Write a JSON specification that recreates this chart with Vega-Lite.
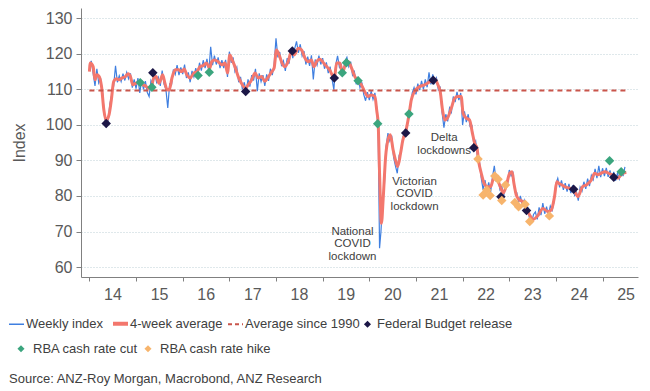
{
  "$schema": "https://vega.github.io/schema/vega-lite/v6.json",
  "width": 557,
  "height": 269,
  "autosize": {"type": "none"},
  "padding": {"left": 81, "top": 8, "right": 12, "bottom": 114},
  "config": {"view": {"stroke": null}, "font": "Liberation Sans"},
  "title": {"text": "Source: ANZ-Roy Morgan, Macrobond, ANZ Research", "orient": "bottom", "anchor": "start", "frame": "group", "dx": -72, "offset": 17, "font": "Liberation Sans", "fontSize": 13, "fontWeight": "normal", "color": "#404040"},
  "datasets": {
    "wk": [
      {"t":2014.00,"v":116.5},{"t":2014.04,"v":118.0},{"t":2014.08,"v":114.5},{"t":2014.12,"v":111.0},{"t":2014.16,"v":115.8},{"t":2014.20,"v":111.8},{"t":2014.24,"v":113.0},{"t":2014.28,"v":109.5},{"t":2014.32,"v":103.0},{"t":2014.36,"v":99.3},{"t":2014.40,"v":101.0},{"t":2014.44,"v":106.0},{"t":2014.48,"v":108.5},{"t":2014.52,"v":111.0},{"t":2014.56,"v":116.6},{"t":2014.60,"v":112.0},{"t":2014.64,"v":113.8},{"t":2014.68,"v":112.2},{"t":2014.72,"v":114.4},{"t":2014.76,"v":112.5},{"t":2014.80,"v":114.8},{"t":2014.84,"v":113.0},{"t":2014.88,"v":114.5},{"t":2014.92,"v":110.5},{"t":2014.96,"v":112.8},
      {"t":2015.00,"v":110.2},{"t":2015.04,"v":113.2},{"t":2015.08,"v":109.0},{"t":2015.12,"v":112.6},{"t":2015.16,"v":110.0},{"t":2015.20,"v":112.3},{"t":2015.24,"v":109.2},{"t":2015.28,"v":108.0},{"t":2015.32,"v":112.5},{"t":2015.36,"v":111.4},{"t":2015.40,"v":114.8},{"t":2015.44,"v":112.0},{"t":2015.48,"v":113.4},{"t":2015.52,"v":111.0},{"t":2015.56,"v":115.3},{"t":2015.60,"v":111.5},{"t":2015.64,"v":110.0},{"t":2015.68,"v":104.8},{"t":2015.72,"v":111.5},{"t":2015.76,"v":111.2},{"t":2015.80,"v":115.6},{"t":2015.84,"v":114.2},{"t":2015.88,"v":116.8},{"t":2015.92,"v":114.0},{"t":2015.96,"v":116.2},
      {"t":2016.00,"v":114.3},{"t":2016.04,"v":117.0},{"t":2016.08,"v":113.2},{"t":2016.12,"v":114.8},{"t":2016.16,"v":112.0},{"t":2016.20,"v":115.2},{"t":2016.24,"v":113.5},{"t":2016.28,"v":116.0},{"t":2016.32,"v":114.0},{"t":2016.36,"v":117.5},{"t":2016.40,"v":115.3},{"t":2016.44,"v":118.2},{"t":2016.48,"v":116.0},{"t":2016.52,"v":118.6},{"t":2016.56,"v":115.0},{"t":2016.60,"v":122.0},{"t":2016.64,"v":116.8},{"t":2016.68,"v":119.5},{"t":2016.72,"v":117.0},{"t":2016.76,"v":119.0},{"t":2016.80,"v":116.0},{"t":2016.84,"v":118.2},{"t":2016.88,"v":116.0},{"t":2016.92,"v":118.3},{"t":2016.96,"v":113.5},
      {"t":2017.00,"v":120.6},{"t":2017.04,"v":117.5},{"t":2017.08,"v":119.0},{"t":2017.12,"v":115.0},{"t":2017.16,"v":116.2},{"t":2017.20,"v":112.0},{"t":2017.24,"v":113.5},{"t":2017.28,"v":110.0},{"t":2017.32,"v":112.0},{"t":2017.36,"v":109.2},{"t":2017.40,"v":112.8},{"t":2017.44,"v":110.8},{"t":2017.48,"v":114.0},{"t":2017.52,"v":112.5},{"t":2017.56,"v":115.8},{"t":2017.60,"v":109.5},{"t":2017.64,"v":114.5},{"t":2017.68,"v":112.2},{"t":2017.72,"v":114.0},{"t":2017.76,"v":111.0},{"t":2017.80,"v":114.2},{"t":2017.84,"v":112.4},{"t":2017.88,"v":115.8},{"t":2017.92,"v":114.0},{"t":2017.96,"v":117.0},
      {"t":2018.00,"v":124.4},{"t":2018.04,"v":119.0},{"t":2018.08,"v":120.5},{"t":2018.12,"v":116.5},{"t":2018.16,"v":118.0},{"t":2018.20,"v":115.2},{"t":2018.24,"v":118.8},{"t":2018.28,"v":117.2},{"t":2018.32,"v":121.5},{"t":2018.36,"v":118.8},{"t":2018.40,"v":121.4},{"t":2018.44,"v":123.5},{"t":2018.48,"v":120.3},{"t":2018.52,"v":122.7},{"t":2018.56,"v":119.4},{"t":2018.60,"v":120.8},{"t":2018.64,"v":117.0},{"t":2018.68,"v":119.2},{"t":2018.72,"v":116.6},{"t":2018.76,"v":119.6},{"t":2018.80,"v":112.8},{"t":2018.84,"v":118.4},{"t":2018.88,"v":116.8},{"t":2018.92,"v":119.5},{"t":2018.96,"v":117.0},
      {"t":2019.00,"v":118.8},{"t":2019.04,"v":115.8},{"t":2019.08,"v":117.6},{"t":2019.12,"v":114.6},{"t":2019.16,"v":116.4},{"t":2019.20,"v":113.0},{"t":2019.24,"v":109.9},{"t":2019.28,"v":117.0},{"t":2019.32,"v":119.4},{"t":2019.36,"v":116.2},{"t":2019.40,"v":117.0},{"t":2019.44,"v":114.0},{"t":2019.48,"v":118.0},{"t":2019.52,"v":119.0},{"t":2019.56,"v":116.4},{"t":2019.60,"v":117.8},{"t":2019.64,"v":114.0},{"t":2019.68,"v":115.0},{"t":2019.72,"v":111.4},{"t":2019.76,"v":113.5},{"t":2019.80,"v":110.5},{"t":2019.84,"v":112.0},{"t":2019.88,"v":108.6},{"t":2019.92,"v":106.8},{"t":2019.96,"v":109.2},
      {"t":2020.00,"v":107.0},{"t":2020.04,"v":109.5},{"t":2020.08,"v":107.2},{"t":2020.12,"v":109.0},{"t":2020.16,"v":104.5},{"t":2020.19,"v":98.0},{"t":2020.22,"v":65.3},{"t":2020.25,"v":70.0},{"t":2020.28,"v":77.5},{"t":2020.32,"v":82.0},{"t":2020.36,"v":94.0},{"t":2020.40,"v":97.7},{"t":2020.44,"v":95.5},{"t":2020.48,"v":97.0},{"t":2020.52,"v":91.0},{"t":2020.56,"v":88.5},{"t":2020.60,"v":86.4},{"t":2020.64,"v":91.5},{"t":2020.68,"v":92.0},{"t":2020.72,"v":96.5},{"t":2020.76,"v":98.5},{"t":2020.80,"v":98.0},{"t":2020.84,"v":103.5},{"t":2020.88,"v":104.5},{"t":2020.92,"v":109.0},{"t":2020.96,"v":110.5},
      {"t":2021.00,"v":108.6},{"t":2021.04,"v":111.6},{"t":2021.08,"v":109.8},{"t":2021.12,"v":112.4},{"t":2021.16,"v":110.0},{"t":2021.20,"v":112.8},{"t":2021.24,"v":110.6},{"t":2021.28,"v":114.8},{"t":2021.32,"v":111.4},{"t":2021.36,"v":114.2},{"t":2021.40,"v":111.8},{"t":2021.44,"v":113.2},{"t":2021.48,"v":109.8},{"t":2021.52,"v":110.5},{"t":2021.56,"v":103.5},{"t":2021.60,"v":99.2},{"t":2021.64,"v":103.0},{"t":2021.68,"v":101.0},{"t":2021.72,"v":104.8},{"t":2021.76,"v":103.6},{"t":2021.80,"v":108.0},{"t":2021.84,"v":106.4},{"t":2021.88,"v":109.3},{"t":2021.92,"v":107.0},{"t":2021.96,"v":109.0},
      {"t":2022.00,"v":100.0},{"t":2022.04,"v":103.8},{"t":2022.08,"v":100.8},{"t":2022.12,"v":103.0},{"t":2022.16,"v":99.6},{"t":2022.20,"v":99.8},{"t":2022.24,"v":94.5},{"t":2022.28,"v":95.5},{"t":2022.32,"v":91.0},{"t":2022.36,"v":89.8},{"t":2022.40,"v":85.0},{"t":2022.44,"v":81.7},{"t":2022.48,"v":84.5},{"t":2022.52,"v":81.5},{"t":2022.56,"v":83.8},{"t":2022.60,"v":81.0},{"t":2022.64,"v":85.3},{"t":2022.68,"v":88.5},{"t":2022.72,"v":84.0},{"t":2022.76,"v":85.3},{"t":2022.80,"v":81.8},{"t":2022.84,"v":82.8},{"t":2022.88,"v":79.8},{"t":2022.92,"v":83.4},{"t":2022.96,"v":83.0},
      {"t":2023.00,"v":87.3},{"t":2023.04,"v":85.6},{"t":2023.08,"v":86.5},{"t":2023.12,"v":81.2},{"t":2023.16,"v":81.0},{"t":2023.20,"v":78.3},{"t":2023.24,"v":80.0},{"t":2023.28,"v":77.4},{"t":2023.32,"v":78.8},{"t":2023.36,"v":75.8},{"t":2023.40,"v":76.6},{"t":2023.44,"v":73.2},{"t":2023.48,"v":72.5},{"t":2023.52,"v":74.8},{"t":2023.56,"v":75.5},{"t":2023.60,"v":73.4},{"t":2023.64,"v":76.8},{"t":2023.68,"v":74.6},{"t":2023.72,"v":78.0},{"t":2023.76,"v":75.0},{"t":2023.80,"v":77.0},{"t":2023.84,"v":74.6},{"t":2023.88,"v":77.2},{"t":2023.92,"v":76.0},{"t":2023.96,"v":78.5},
      {"t":2024.00,"v":83.5},{"t":2024.04,"v":85.0},{"t":2024.08,"v":82.4},{"t":2024.12,"v":84.4},{"t":2024.16,"v":81.7},{"t":2024.20,"v":83.6},{"t":2024.24,"v":81.2},{"t":2024.28,"v":83.4},{"t":2024.32,"v":80.8},{"t":2024.36,"v":83.0},{"t":2024.40,"v":80.2},{"t":2024.44,"v":81.2},{"t":2024.48,"v":78.7},{"t":2024.52,"v":82.5},{"t":2024.56,"v":81.4},{"t":2024.60,"v":84.0},{"t":2024.64,"v":82.0},{"t":2024.68,"v":84.9},{"t":2024.72,"v":82.8},{"t":2024.76,"v":85.8},{"t":2024.80,"v":84.6},{"t":2024.84,"v":87.6},{"t":2024.88,"v":85.0},{"t":2024.92,"v":88.5},{"t":2024.96,"v":85.3},
      {"t":2025.00,"v":87.8},{"t":2025.04,"v":85.6},{"t":2025.08,"v":87.9},{"t":2025.12,"v":85.4},{"t":2025.16,"v":87.2},{"t":2025.20,"v":84.8},{"t":2025.24,"v":86.8},{"t":2025.28,"v":84.3},{"t":2025.32,"v":86.4},{"t":2025.36,"v":84.8},{"t":2025.40,"v":87.4},{"t":2025.44,"v":85.6},{"t":2025.48,"v":88.2}
    ],
    "avg": [
      {"t":2014.00,"v":115.0},{"t":2014.02,"v":117.4},{"t":2014.08,"v":116.4},{"t":2014.12,"v":112.7},{"t":2014.16,"v":114.1},{"t":2014.21,"v":113.6},{"t":2014.26,"v":110.8},{"t":2014.31,"v":104.2},{"t":2014.36,"v":101.2},{"t":2014.42,"v":102.8},{"t":2014.47,"v":107.0},{"t":2014.52,"v":112.2},{"t":2014.58,"v":113.0},{"t":2014.63,"v":112.7},{"t":2014.70,"v":113.2},{"t":2014.77,"v":113.6},{"t":2014.83,"v":114.4},{"t":2014.88,"v":113.6},{"t":2014.93,"v":111.3},{"t":2014.99,"v":111.7},
      {"t":2015.05,"v":112.0},{"t":2015.13,"v":111.3},{"t":2015.20,"v":111.0},{"t":2015.27,"v":110.3},{"t":2015.34,"v":111.3},{"t":2015.38,"v":113.2},{"t":2015.43,"v":113.6},{"t":2015.49,"v":111.7},{"t":2015.53,"v":112.8},{"t":2015.57,"v":114.1},{"t":2015.62,"v":111.7},{"t":2015.66,"v":110.0},{"t":2015.71,"v":109.8},{"t":2015.77,"v":113.2},{"t":2015.84,"v":115.5},{"t":2015.91,"v":115.5},{"t":2015.98,"v":115.0},
      {"t":2016.03,"v":115.7},{"t":2016.09,"v":114.1},{"t":2016.16,"v":113.2},{"t":2016.24,"v":114.6},{"t":2016.31,"v":115.0},{"t":2016.37,"v":116.4},{"t":2016.44,"v":116.7},{"t":2016.51,"v":117.4},{"t":2016.58,"v":115.9},{"t":2016.62,"v":117.8},{"t":2016.69,"v":118.3},{"t":2016.76,"v":117.8},{"t":2016.84,"v":116.9},{"t":2016.91,"v":117.4},{"t":2016.96,"v":114.6},
      {"t":2017.01,"v":119.7},{"t":2017.06,"v":118.3},{"t":2017.12,"v":116.4},{"t":2017.19,"v":113.6},{"t":2017.26,"v":111.7},{"t":2017.35,"v":110.3},{"t":2017.40,"v":111.2},{"t":2017.48,"v":112.7},{"t":2017.55,"v":114.6},{"t":2017.62,"v":113.2},{"t":2017.69,"v":113.6},{"t":2017.76,"v":112.3},{"t":2017.84,"v":113.6},{"t":2017.91,"v":115.0},{"t":2017.96,"v":116.0},
      {"t":2018.01,"v":121.1},{"t":2018.08,"v":119.2},{"t":2018.13,"v":117.4},{"t":2018.19,"v":116.4},{"t":2018.26,"v":117.8},{"t":2018.33,"v":120.6},{"t":2018.39,"v":119.7},{"t":2018.48,"v":121.6},{"t":2018.55,"v":121.1},{"t":2018.62,"v":118.8},{"t":2018.69,"v":117.8},{"t":2018.76,"v":118.3},{"t":2018.81,"v":116.4},{"t":2018.88,"v":118.0},{"t":2018.94,"v":118.5},
      {"t":2019.05,"v":116.9},{"t":2019.15,"v":115.5},{"t":2019.25,"v":113.2},{"t":2019.30,"v":117.4},{"t":2019.37,"v":117.4},{"t":2019.42,"v":114.7},{"t":2019.50,"v":117.4},{"t":2019.55,"v":117.8},{"t":2019.62,"v":116.0},{"t":2019.69,"v":113.6},{"t":2019.76,"v":112.4},{"t":2019.83,"v":111.3},{"t":2019.90,"v":109.4},{"t":2019.97,"v":108.0},
      {"t":2020.04,"v":108.4},{"t":2020.12,"v":108.0},{"t":2020.16,"v":104.0},{"t":2020.19,"v":100.5},{"t":2020.22,"v":86.4},{"t":2020.26,"v":72.3},{"t":2020.30,"v":79.8},{"t":2020.35,"v":91.1},{"t":2020.40,"v":95.8},{"t":2020.45,"v":97.2},{"t":2020.51,"v":93.0},{"t":2020.57,"v":89.7},{"t":2020.61,"v":88.3},{"t":2020.67,"v":92.0},{"t":2020.72,"v":95.8},{"t":2020.78,"v":98.1},{"t":2020.85,"v":102.8},{"t":2020.90,"v":107.0},{"t":2020.97,"v":109.4},
      {"t":2021.08,"v":110.8},{"t":2021.19,"v":111.3},{"t":2021.30,"v":112.2},{"t":2021.37,"v":113.0},{"t":2021.41,"v":112.9},{"t":2021.47,"v":111.3},{"t":2021.52,"v":109.4},{"t":2021.57,"v":104.2},{"t":2021.62,"v":101.4},{"t":2021.69,"v":102.3},{"t":2021.76,"v":104.8},{"t":2021.83,"v":107.5},{"t":2021.90,"v":108.0},{"t":2021.97,"v":108.0},
      {"t":2022.01,"v":103.3},{"t":2022.08,"v":101.9},{"t":2022.15,"v":101.4},{"t":2022.21,"v":97.7},{"t":2022.26,"v":94.8},{"t":2022.31,"v":93.4},{"t":2022.34,"v":90.1},{"t":2022.40,"v":86.4},{"t":2022.46,"v":83.6},{"t":2022.53,"v":82.6},{"t":2022.60,"v":82.6},{"t":2022.65,"v":84.5},{"t":2022.69,"v":85.4},{"t":2022.75,"v":84.5},{"t":2022.82,"v":82.2},{"t":2022.87,"v":80.8},{"t":2022.93,"v":82.6},
      {"t":2023.01,"v":86.4},{"t":2023.06,"v":86.8},{"t":2023.10,"v":83.6},{"t":2023.15,"v":80.3},{"t":2023.22,"v":78.9},{"t":2023.29,"v":78.4},{"t":2023.37,"v":76.5},{"t":2023.44,"v":74.6},{"t":2023.51,"v":73.4},{"t":2023.62,"v":74.6},{"t":2023.72,"v":76.5},{"t":2023.83,"v":75.6},{"t":2023.90,"v":76.0},{"t":2023.97,"v":79.8},
      {"t":2024.02,"v":84.0},{"t":2024.06,"v":83.6},{"t":2024.13,"v":83.1},{"t":2024.19,"v":82.6},{"t":2024.29,"v":82.2},{"t":2024.37,"v":82.0},{"t":2024.42,"v":80.8},{"t":2024.47,"v":79.8},{"t":2024.57,"v":82.6},{"t":2024.65,"v":83.1},{"t":2024.76,"v":84.5},{"t":2024.83,"v":86.4},{"t":2024.90,"v":86.0},{"t":2024.97,"v":86.4},
      {"t":2025.05,"v":86.8},{"t":2025.16,"v":86.2},{"t":2025.23,"v":85.9},{"t":2025.33,"v":85.0},{"t":2025.40,"v":86.0},{"t":2025.44,"v":86.4},{"t":2025.51,"v":86.7}
    ],
    "ref": [{"t":2014.0,"v":109.7},{"t":2025.5,"v":109.7}],
    "bud": [
      {"t":2014.36,"v":100.4},{"t":2015.36,"v":114.7},{"t":2017.35,"v":109.4},{"t":2018.35,"v":120.8},{"t":2019.25,"v":113.2},{"t":2020.78,"v":97.7},{"t":2021.37,"v":112.6},{"t":2022.24,"v":93.6},{"t":2022.82,"v":79.8},{"t":2023.37,"v":75.9},{"t":2024.38,"v":81.9},{"t":2025.24,"v":85.3}
    ],
    "rba": [
      {"t":2015.09,"v":111.9,"s":"RBA cash rate cut"},{"t":2015.34,"v":110.6,"s":"RBA cash rate cut"},{"t":2016.33,"v":113.9,"s":"RBA cash rate cut"},{"t":2016.57,"v":114.8,"s":"RBA cash rate cut"},{"t":2019.42,"v":114.7,"s":"RBA cash rate cut"},{"t":2019.51,"v":117.5,"s":"RBA cash rate cut"},{"t":2019.76,"v":112.4,"s":"RBA cash rate cut"},{"t":2020.18,"v":100.3,"s":"RBA cash rate cut"},{"t":2020.85,"v":103.1,"s":"RBA cash rate cut"},{"t":2025.15,"v":89.9,"s":"RBA cash rate cut"},{"t":2025.40,"v":86.8,"s":"RBA cash rate cut"},
      {"t":2022.33,"v":90.4,"s":"RBA cash rate hike"},{"t":2022.44,"v":80.3,"s":"RBA cash rate hike"},{"t":2022.52,"v":81.7,"s":"RBA cash rate hike"},{"t":2022.59,"v":80.1,"s":"RBA cash rate hike"},{"t":2022.69,"v":85.6,"s":"RBA cash rate hike"},{"t":2022.76,"v":84.7,"s":"RBA cash rate hike"},{"t":2022.84,"v":78.7,"s":"RBA cash rate hike"},{"t":2022.92,"v":83.1,"s":"RBA cash rate hike"},{"t":2023.12,"v":78.2,"s":"RBA cash rate hike"},{"t":2023.20,"v":77.0,"s":"RBA cash rate hike"},{"t":2023.34,"v":77.7,"s":"RBA cash rate hike"},{"t":2023.44,"v":72.8,"s":"RBA cash rate hike"},{"t":2023.86,"v":74.4,"s":"RBA cash rate hike"}
    ],
    "ann": [
      {"t":2019.64,"v":71.6,"txt":"National\nCOVID\nlockdown"},
      {"t":2020.97,"v":85.65,"txt":"Victorian\nCOVID\nlockdown"},
      {"t":2021.605,"v":98.0,"txt":"Delta\nlockdowns"}
    ]
  },
  "encoding": {
    "x": {"field": "t", "type": "quantitative", "scale": {"domain": [2013.82, 2025.76], "nice": false, "zero": false},
      "axis": {"title": null, "values": [2014,2015,2016,2017,2018,2019,2020,2021,2022,2023,2024,2025], "labelExpr": "'' + (datum.value - 2000)", "labelOffset": 23, "labelOverlap": false, "labelFlush": false, "grid": false, "tickSize": 4, "labelPadding": 5, "labelFontSize": 16, "labelColor": "#595959", "domainColor": "#808080", "tickColor": "#808080", "labelFont": "Liberation Sans"}},
    "y": {"field": "v", "type": "quantitative", "scale": {"domain": [57.2, 132.9], "nice": false, "zero": false},
      "axis": {"title": "Index", "values": [60,70,80,90,100,110,120,130], "grid": true, "gridDash": [1,2], "gridColor": "#bfd0d6", "tickSize": 5, "labelPadding": 4, "labelFontSize": 16, "labelColor": "#595959", "domainColor": "#808080", "tickColor": "#808080", "titleFontSize": 16, "titleFontWeight": "normal", "titleColor": "#595959", "titlePadding": 18, "labelFont": "Liberation Sans", "titleFont": "Liberation Sans"}}
  },
  "layer": [
    {"data": {"name": "wk"}, "mark": {"type": "line", "strokeWidth": 1.2, "interpolate": "linear"},
      "encoding": {"color": {"datum": "Weekly index", "type": "nominal", "title": null,
        "scale": {"domain": ["Weekly index","4-week average","Average since 1990","Federal Budget release"], "range": ["#3f7fe0","#f3776d","#c9554b","#1c1747"]},
        "legend": {"title": null, "orient": "none", "legendX": -71, "legendY": 309, "direction": "horizontal", "columns": 4, "padding": 0, "labelFont": "Liberation Sans", "labelFontSize": 13, "labelColor": "#404040", "symbolSize": 225, "symbolType": "stroke", "labelOffset": 3, "columnPadding": 1,
          "encode": {"symbols": {"update": {
            "shape": {"signal": "datum.value === 'Federal Budget release' ? 'diamond' : 'stroke'"},
            "size": {"signal": "datum.value === 'Federal Budget release' ? 50 : 225"},
            "strokeWidth": {"signal": "datum.value === 'Weekly index' ? 1.5 : datum.value === '4-week average' ? 4 : datum.value === 'Average since 1990' ? 2 : 0"},
            "strokeDash": {"signal": "datum.value === 'Average since 1990' ? [4,3] : []"},
            "stroke": {"signal": "datum.value === 'Weekly index' ? '#8fb2ee' : scale('color', datum.value)"},
            "fill": {"signal": "datum.value === 'Federal Budget release' ? scale('color', datum.value) : 'transparent'"},
            "opacity": {"value": 1}
          }}}}}}},
    {"data": {"name": "avg"}, "mark": {"type": "line", "strokeWidth": 3, "interpolate": "monotone"},
      "encoding": {"color": {"datum": "4-week average", "type": "nominal", "title": null}}},
    {"data": {"name": "ref"}, "mark": {"type": "line", "strokeWidth": 2, "strokeDash": [5,4]},
      "encoding": {"color": {"datum": "Average since 1990", "type": "nominal", "title": null}}},
    {"data": {"name": "bud"}, "mark": {"type": "point", "shape": "diamond", "filled": true, "size": 90, "opacity": 1},
      "encoding": {"color": {"datum": "Federal Budget release", "type": "nominal", "title": null}}},
    {"data": {"name": "rba"}, "mark": {"type": "point", "shape": "diamond", "filled": true, "size": 90, "opacity": 1, "strokeWidth": 0},
      "encoding": {"fill": {"field": "s", "type": "nominal", "title": null,
        "scale": {"domain": ["RBA cash rate cut","RBA cash rate hike"], "range": ["#3ba57e","#f7b46c"]},
        "legend": {"title": null, "orient": "none", "legendX": -66.5, "legendY": 334, "direction": "horizontal", "columns": 2, "padding": 0, "labelFont": "Liberation Sans", "labelFontSize": 13, "labelColor": "#404040", "symbolSize": 50, "symbolType": "diamond", "symbolStrokeWidth": 0, "labelOffset": 5.5, "columnPadding": 3}}}},
    {"data": {"name": "ann"}, "mark": {"type": "text", "align": "center", "baseline": "top", "lineBreak": "\n", "fontSize": 11.5, "lineHeight": 12.5, "font": "Liberation Sans", "color": "#404040"},
      "encoding": {"text": {"field": "txt"}}}
  ]
}
